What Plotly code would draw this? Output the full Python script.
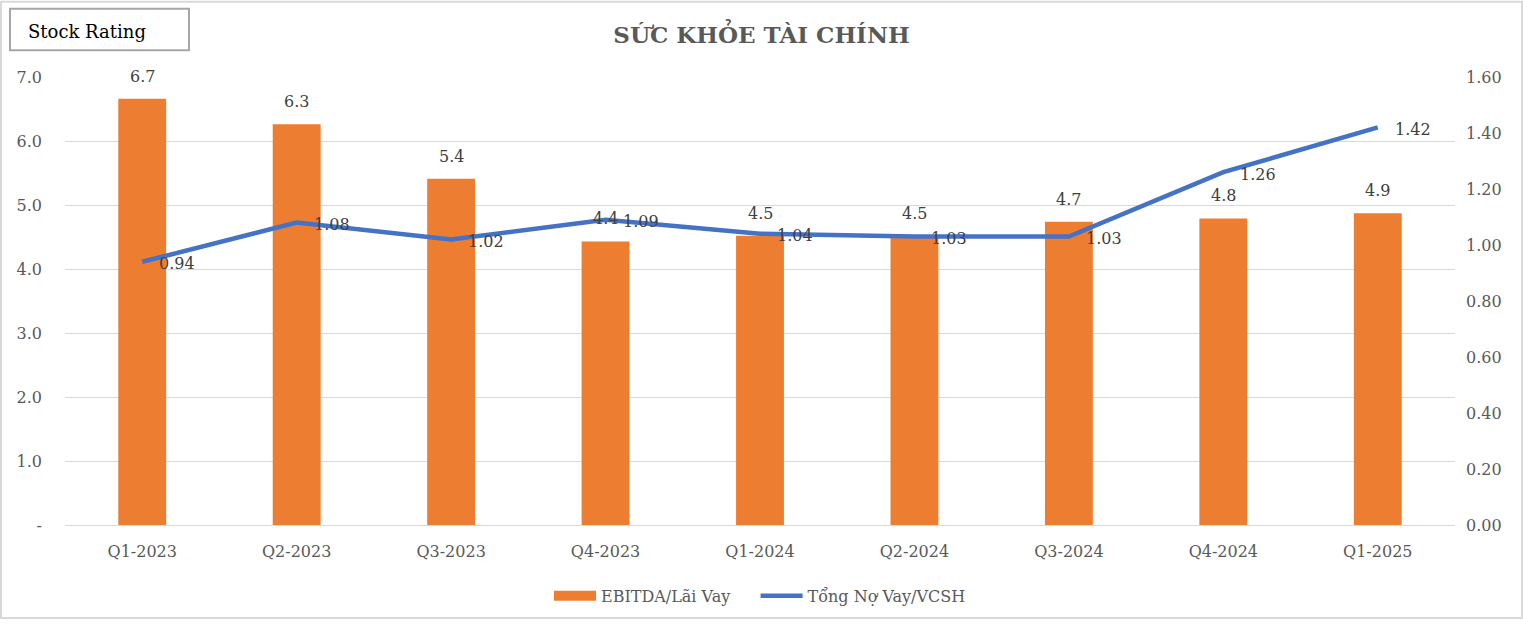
import plotly.graph_objects as go

categories = ["Q1-2023", "Q2-2023", "Q3-2023", "Q4-2023", "Q1-2024",
              "Q2-2024", "Q3-2024", "Q4-2024", "Q1-2025"]
ebitda_lai_vay = [6.66, 6.26, 5.41, 4.43, 4.52, 4.52, 4.74, 4.79, 4.87]
no_vay_vcsh = [0.94, 1.08, 1.02, 1.09, 1.04, 1.03, 1.03, 1.26, 1.42]
left_ticks = [0, 1, 2, 3, 4, 5, 6, 7]
left_ticktext = ["-", "1.0", "2.0", "3.0", "4.0", "5.0", "6.0", "7.0"]
right_ticks = [0, 0.2, 0.4, 0.6, 0.8, 1.0, 1.2, 1.4, 1.6]

FONT = "DejaVu Serif"
GRAY = "#595959"
LABEL = "#404040"
ORANGE = "#ED7D31"
BLUE = "#4472C4"

fig = go.Figure()
fig.add_trace(go.Bar(
    x=categories, y=ebitda_lai_vay, name="EBITDA/Lãi Vay",
    marker=dict(color=ORANGE, line=dict(width=0)),
    yaxis="y", showlegend=False,
))
# legend stand-in for bar (wide rectangle swatch like the reference)
fig.add_trace(go.Scatter(
    x=[None], y=[None], name="EBITDA/Lãi Vay&nbsp;&nbsp;&nbsp;&nbsp;", mode="lines",
    line=dict(color=ORANGE, width=10), yaxis="y",
))
fig.add_trace(go.Scatter(
    x=categories, y=no_vay_vcsh, name="Tổng Nợ Vay/VCSH",
    mode="lines", line=dict(color=BLUE, width=4.5),
    yaxis="y2",
))

for c, v in zip(categories, ebitda_lai_vay):
    fig.add_annotation(x=c, y=v, xref="x", yref="y", text=f"{v:.1f}",
                       showarrow=False, yanchor="bottom", yshift=11,
                       font=dict(family=FONT, size=16, color=LABEL))
for c, v in zip(categories, no_vay_vcsh):
    fig.add_annotation(x=c, y=v, xref="x", yref="y2", text=f"{v:.2f}",
                       showarrow=False, xanchor="left", yanchor="middle",
                       xshift=15, yshift=-2,
                       font=dict(family=FONT, size=16, color=LABEL))

fig.update_layout(
    width=1523, height=625,
    margin=dict(l=65, r=68, t=77, b=95),
    paper_bgcolor="white", plot_bgcolor="white",
    font=dict(family=FONT, size=16, color=GRAY),
    bargap=0.69,
    title=dict(text="<b>SỨC KHỎE TÀI CHÍNH</b>", x=0.5, xanchor="center",
               y=1 - 35 / 625, yanchor="middle",
               font=dict(family=FONT, size=23, color=GRAY)),
    xaxis=dict(showgrid=False, showline=True, linecolor="#d9d9d9",
               ticks="", ticklabelstandoff=12,
               tickfont=dict(size=16, color=GRAY)),
    yaxis=dict(range=[0, 7], tickvals=left_ticks, ticktext=left_ticktext,
               showgrid=True, gridcolor="#d9d9d9", gridwidth=1,
               zeroline=False, ticks="", ticklabelstandoff=22,
               tickfont=dict(size=16, color=GRAY)),
    yaxis2=dict(range=[0, 1.6], tickvals=right_ticks, tickformat=".2f",
                overlaying="y", side="right", showgrid=False,
                zeroline=False, ticks="", ticklabelstandoff=10,
                tickfont=dict(size=16, color=GRAY)),
    legend=dict(orientation="h", x=0.5, xanchor="center", y=-0.12,
                yanchor="top", font=dict(size=16, color=GRAY),
                traceorder="normal", itemwidth=42),
    showlegend=True,
)

# Stock Rating box
fig.add_shape(type="rect", xref="paper", yref="paper",
              x0=(10 - 65) / 1390, x1=(189 - 65) / 1390,
              y0=(530 - 50) / 453, y1=(530 - 8) / 453,
              line=dict(color="#a6a6a6", width=2), fillcolor="white")
fig.add_annotation(xref="paper", yref="paper",
                   x=(26 - 65) / 1390, y=(530 - 31) / 453,
                   xanchor="left", yanchor="middle", showarrow=False,
                   text="Stock Rating",
                   font=dict(family=FONT, size=18, color="#000000"))
# outer border
fig.add_shape(type="rect", xref="paper", yref="paper",
              x0=(1 - 65) / 1390, x1=(1522 - 65) / 1390,
              y0=(530 - 624) / 453, y1=(530 - 1) / 453,
              line=dict(color="#d9d9d9", width=2))

fig.write_html("out.html")
